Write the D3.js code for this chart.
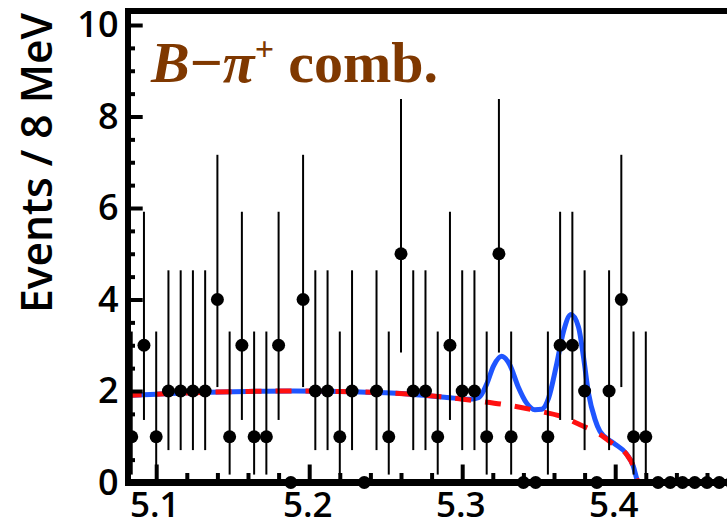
<!DOCTYPE html>
<html><head><meta charset="utf-8">
<script src="https://cdn.jsdelivr.net/npm/d3@7"></script>
<style>
html,body{margin:0;padding:0;background:#fff;}
svg{display:block;}
</style></head>
<body>
<svg id="chart" width="727" height="527"></svg>
<script>
// ---- data ----
const massBins = [5.084,5.092,5.100,5.108,5.116,5.124,5.132,5.140,5.148,5.156,
  5.164,5.172,5.180,5.188,5.196,5.204,5.212,5.220,5.228,5.236,
  5.244,5.252,5.260,5.268,5.276,5.284,5.292,5.300,5.308,5.316,
  5.324,5.332,5.340,5.348,5.356,5.364,5.372,5.380,5.388,5.396,
  5.404,5.412,5.420,5.428,5.436,5.444,5.452,5.460,5.468,5.476];
const counts = [1,3,1,2,2,2,2,4,1,3,
  1,1,3,0,4,2,2,1,2,0,
  2,1,5,2,2,1,3,2,2,1,
  5,1,0,0,1,3,3,2,0,2,
  4,1,1,0,0,0,0,0,0,0];
// asymmetric Poisson (68%) errors by count
const errLo = [0, 0.827, 1.292, 1.633, 1.914, 2.160];
const errHi = [0, 2.300, 2.638, 2.918, 3.163, 3.382];
// background fit (red dashed)
const bkgMass = [5.080,5.100,5.130,5.160,5.190,5.220,5.250,5.270,5.290,5.310,5.330,5.350,5.365,5.377,5.390,5.399,5.4075,5.4118,5.4144,5.4150,5.480];
const bkgVal  = [1.90,1.93,1.97,1.99,2.00,1.99,1.96,1.92,1.86,1.78,1.69,1.56,1.44,1.26,1.05,0.83,0.61,0.36,0.05,0,0];
// total fit (blue solid)
const totMass = [5.080,5.100,5.130,5.160,5.190,5.220,5.250,5.270,5.290,5.305,5.311,5.316,5.3205,5.3258,5.331,5.3365,5.342,5.3475,5.352,5.3565,5.3615,5.3662,5.3711,5.376,5.3792,5.3825,5.3868,5.390,5.399,5.4075,5.4118,5.4144,5.4150,5.480];
const totVal  = [1.90,1.93,1.97,1.99,2.00,1.99,1.96,1.92,1.86,1.82,1.86,2.15,2.55,2.76,2.58,2.10,1.74,1.59,1.60,1.85,2.55,3.30,3.67,3.40,2.76,1.96,1.38,1.12,0.86,0.62,0.36,0.05,0,0];
const xMajorTicks = [5.1,5.2,5.3,5.4];
const xMinorTicks = [5.12,5.14,5.16,5.18,5.22,5.24,5.26,5.28,5.32,5.34,5.36,5.38,5.42,5.44,5.46];
const yMajorTicks = [0,2,4,6,8,10];
const yMinorTicks = [0.5,1,1.5,2.5,3,3.5,4.5,5,5.5,6.5,7,7.5,8.5,9,9.5];
const yTitle = "Events / 8 MeV";

// ---- layout ----
const svg = d3.select("#chart");
const x = d3.scaleLinear().domain([5.08, 5.48]).range([125.6, 737.6]);
const y = d3.scaleLinear().domain([0, 10]).range([482.5, 25]);
const axisX = 128, axisY = 482.5, topY = 11;
const labelFont = "'Open Sans', 'DejaVu Sans', sans-serif";

const line = d3.line().x(d => x(d[0])).y(d => y(d[1])).curve(d3.curveMonotoneX);

// data error bars
const gData = svg.append("g");
const pts = massBins.map((m,i) => ({m, n: counts[i]}));
gData.selectAll("line.err").data(pts.filter(d => d.n > 0)).join("line")
  .attr("class","err")
  .attr("x1", d => x(d.m)).attr("x2", d => x(d.m))
  .attr("y1", d => y(d.n - errLo[d.n])).attr("y2", d => y(d.n + errHi[d.n]))
  .attr("stroke", "#000").attr("stroke-width", 2);

// fit curves
svg.append("path").datum(totMass.map((m,i)=>[m,totVal[i]]))
  .attr("d", line).attr("fill","none").attr("stroke","#1f55ff").attr("stroke-width",5)
  .attr("stroke-linejoin","round");
svg.append("path").datum(bkgMass.map((m,i)=>[m,bkgVal[i]]))
  .attr("d", line).attr("fill","none").attr("stroke","#ff1010").attr("stroke-width",5)
  .attr("stroke-dasharray","16,14");

// frame
const gFrame = svg.append("g");
gFrame.append("line").attr("x1", axisX - 3).attr("x2", 740).attr("y1", topY).attr("y2", topY)
  .attr("stroke","#000").attr("stroke-width",6);
gFrame.append("line").attr("x1", axisX).attr("x2", axisX).attr("y1", topY - 3).attr("y2", axisY + 3.5)
  .attr("stroke","#000").attr("stroke-width",6);
gFrame.append("line").attr("x1", axisX - 3).attr("x2", 740).attr("y1", axisY).attr("y2", axisY)
  .attr("stroke","#000").attr("stroke-width",7);

// x axis ticks (inward)
const xMaj = d3.axisBottom(x).tickValues(xMajorTicks).tickSize(-18).tickPadding(10)
  .tickFormat(d3.format(".1f"));
const gx = svg.append("g").attr("transform", `translate(0,${axisY})`).call(xMaj);
const xMin = d3.axisBottom(x).tickValues(xMinorTicks).tickSize(-9.5).tickFormat("");
const gx2 = svg.append("g").attr("transform", `translate(0,${axisY})`).call(xMin);
// y axis ticks (inward)
const yMaj = d3.axisLeft(y).tickValues(yMajorTicks).tickSize(-14.7).tickPadding(9.5)
  .tickFormat(d3.format("d"));
const gy = svg.append("g").attr("transform", `translate(${axisX},0)`).call(yMaj);
const yMin = d3.axisLeft(y).tickValues(yMinorTicks).tickSize(-7).tickFormat("");
const gy2 = svg.append("g").attr("transform", `translate(${axisX},0)`).call(yMin);
[gx,gx2,gy,gy2].forEach(g => {
  g.select(".domain").remove();
  g.selectAll(".tick line").attr("stroke","#000").attr("stroke-width",4);
  g.selectAll(".tick text").attr("fill","#000")
    .style("font-family", labelFont).style("font-weight", 600).style("font-size","36px");
});
gx.selectAll(".tick text").attr("dx", -2).style("font-size","35px");

// data points (on top)
gData.raise();
svg.append("g").selectAll("circle").data(pts).join("circle")
  .attr("cx", d => x(d.m)).attr("cy", d => y(d.n)).attr("r", 6.5).attr("fill","#000");

// y title
svg.append("text")
  .attr("transform", "translate(52,163) rotate(-90)")
  .attr("text-anchor","middle")
  .style("font-family", labelFont).style("font-weight", 600).style("font-size","43px")
  .attr("textLength", 300).attr("lengthAdjust","spacingAndGlyphs")
  .text(yTitle);

// plot label
const lab = svg.append("text").attr("x", 151).attr("y", 82)
  .attr("fill", "#7f3800")
  .style("font-family", "'Liberation Serif', 'Times New Roman', serif")
  .style("font-weight", "bold").style("font-size", "58px");
lab.append("tspan").style("font-style","italic").text("B");
lab.append("tspan").text("\u2212");
lab.append("tspan").style("font-style","italic").text("\u03C0");
lab.append("tspan").attr("dy", -22).style("font-size","34px").style("font-style","italic").text("+");
lab.append("tspan").attr("dy", 22).text(" comb.");
</script>
</body></html>
